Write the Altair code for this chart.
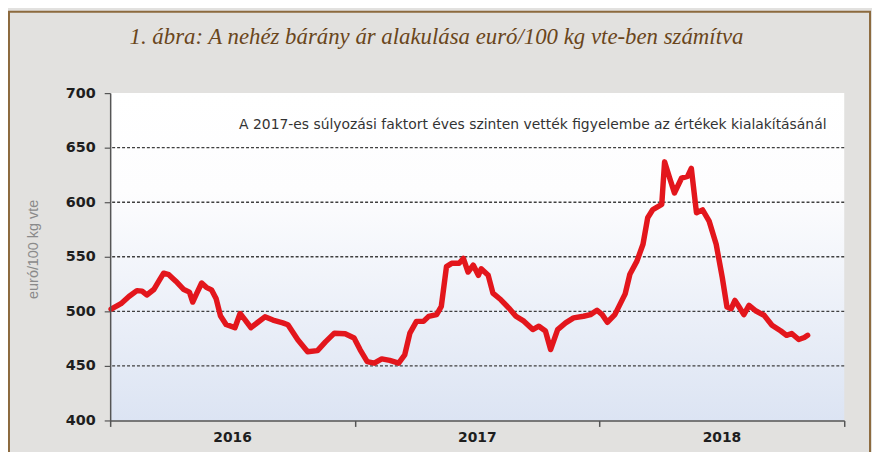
import altair as alt
import pandas as pd

# weeks since 2016-01-01, price in euro/100 kg
weeks = [0.2, 2.3, 4.0, 5.7, 6.8, 7.8, 9.3, 10.4, 11.4, 12.5, 14.0, 15.7, 16.9, 17.6, 18.4,
         19.5, 20.5, 21.6, 22.6, 23.5, 24.7, 26.6, 27.7, 28.8, 30.0, 31.5, 33.0, 34.7, 36.8,
         37.9, 40.0, 42.1, 44.2, 45.9, 47.8, 50.1, 52.0, 53.3, 54.8, 56.3, 57.9, 59.6, 61.5,
         62.8, 63.9, 65.3, 66.8, 67.9, 69.6, 70.6, 71.7, 72.8, 74.4, 75.3, 76.3, 77.4, 78.5,
         79.1, 80.6, 81.6, 83.3, 85.0, 86.5, 88.2, 90.1, 91.4, 92.8, 93.9, 95.4, 97.1, 98.8,
         100.9, 102.4, 103.8, 104.9, 106.0, 107.6, 109.8, 110.8, 112.3, 113.6, 114.6, 115.7,
         117.6, 118.2, 119.3, 120.3, 121.8, 123.1, 123.9, 125.0, 126.3, 127.7, 129.2, 130.5,
         131.5, 132.4, 133.2, 134.1, 135.1, 136.2, 137.7, 139.4, 141.1, 143.0, 144.2, 145.3,
         146.8, 148.0, 148.7]
prices = [502, 507, 513.6, 519, 518.5, 515, 520, 528, 535, 533.6, 527.6, 520, 517.6, 508.5, 516,
          526, 522, 519.7, 511.5, 496, 488, 485, 498, 492, 485, 490, 495, 492, 489.4,
          487.7, 474, 463, 464, 472, 480, 479.4, 475.5, 464.7, 454, 452.5, 456.4, 455, 452.5,
          460, 480, 490.8, 490.8, 495.4, 497, 504.5, 541, 544, 544, 548.5, 536, 542.4, 533,
          539, 533, 516.7, 510.6, 503, 495.5, 491, 483.3, 486.4, 482, 465, 483.3, 489.4, 494,
          495.5, 497, 501, 497, 490, 497, 516, 534, 546, 561.5, 585.8, 593.3,
          598, 637, 622, 608.5, 622, 623.6, 631, 590.3, 593, 582.7, 561.5, 531,
          504, 502.4, 510, 504, 497, 505.5, 500.3, 496.4, 487.3, 482, 478, 479.7,
          474.2, 476, 478]

grid_levels = [450, 500, 550, 600, 650]
y_ticks = [400, 450, 500, 550, 600, 650, 700]
year_bounds = [0, 52.18, 104.36, 156.5]
year_mid = [26.09, 78.27, 130.43]
year_labels = ["2016", "2017", "2018"]

title_text = "1. ábra: A nehéz bárány ár alakulása euró/100 kg vte-ben számítva"
note_text = "A 2017-es súlyozási faktort éves szinten vették figyelembe az értékek kialakításánál"
y_title = "euró/100 kg vte"

W, H = 740, 330
xscale = alt.Scale(domain=[0, 156.5], nice=False, zero=False)
yscale = alt.Scale(domain=[400, 700], nice=False, zero=False)

x_axis = alt.Axis(values=year_bounds, labels=False, title=None, grid=False,
                  tickSize=6, tickColor="#555", domainColor="#555", domainWidth=1.5,
                  tickWidth=1.5, zindex=1)
y_axis = alt.Axis(values=y_ticks, title=y_title, grid=False, tickSize=6,
                  tickColor="#555", domainColor="#555", domainWidth=1.5, tickWidth=1.2,
                  labelFont="DejaVu Sans", labelFontWeight="bold", labelFontSize=14.5,
                  labelColor="#1e1e1e", labelPadding=9,
                  titleFont="Liberation Sans", titleFontSize=14.5,
                  titleFontWeight="normal", titleColor="#8a8a8a",
                  titleX=-70, titleY=157, titleAngle=270, zindex=1)

line_df = pd.DataFrame({"x": weeks, "y": prices})
grid_df = pd.DataFrame({"y": grid_levels})
bg_df = pd.DataFrame({"x": [0], "x1": [156.5], "y": [400], "y1": [700]})
year_df = pd.DataFrame({"x": year_mid, "label": year_labels, "y": [400] * 3})
note_df = pd.DataFrame({"x": [90.1], "y": [671], "t": [note_text]})
title_df = pd.DataFrame({"t": [title_text]})

X = alt.X("x:Q", scale=xscale, axis=x_axis)
Y = alt.Y("y:Q", scale=yscale, axis=y_axis)

frame = alt.Chart(title_df).mark_rect(
    fill="#E2E1DF", fillOpacity=0, stroke="#8C6A3E", strokeWidth=2
).encode(x=alt.value(-102), x2=alt.value(766), y=alt.value(-82), y2=alt.value(H + 80))

bg = alt.Chart(bg_df).mark_rect(
    color=alt.Gradient(
        gradient="linear",
        stops=[alt.GradientStop(color="#FFFFFF", offset=0),
               alt.GradientStop(color="#FDFDFE", offset=0.3),
               alt.GradientStop(color="#DCE4F3", offset=1)],
        x1=0, x2=0, y1=0, y2=1)
).encode(x=X, x2="x1", y=Y, y2="y1")

grid = alt.Chart(grid_df).mark_rule(color="#3f3f3f", strokeDash=[3, 2], strokeWidth=1.4).encode(y=Y)

line = alt.Chart(line_df).mark_line(
    color="#E3161C", strokeWidth=5.5, strokeJoin="round", strokeCap="round"
).encode(x=X, y=Y)

years = alt.Chart(year_df).mark_text(
    font="DejaVu Sans", fontWeight="bold", fontSize=14, color="#1e1e1e",
    baseline="middle", align="center", dy=18
).encode(x=X, y=Y, text="label:N")

note = alt.Chart(note_df).mark_text(
    font="DejaVu Sans", fontSize=14, color="#333333", align="center", baseline="middle"
).encode(x=X, y=Y, text="t:N")

title = alt.Chart(title_df).mark_text(
    font="Liberation Serif", fontStyle="italic", fontSize=23, color="#6A461B",
    align="center", baseline="middle"
).encode(x=alt.value(329), y=alt.value(-57), text="t:N")

chart = alt.layer(frame, bg, grid, line, years, note, title).properties(
    width=W, height=H,
    autosize=alt.AutoSizeParams(type="none"),
    padding={"left": 103, "top": 84, "right": 28, "bottom": 30},
    background="#E2E1DF",
).configure_view(stroke=None)

chart.save("out.html", embed_options={"renderer": "svg", "actions": False})
